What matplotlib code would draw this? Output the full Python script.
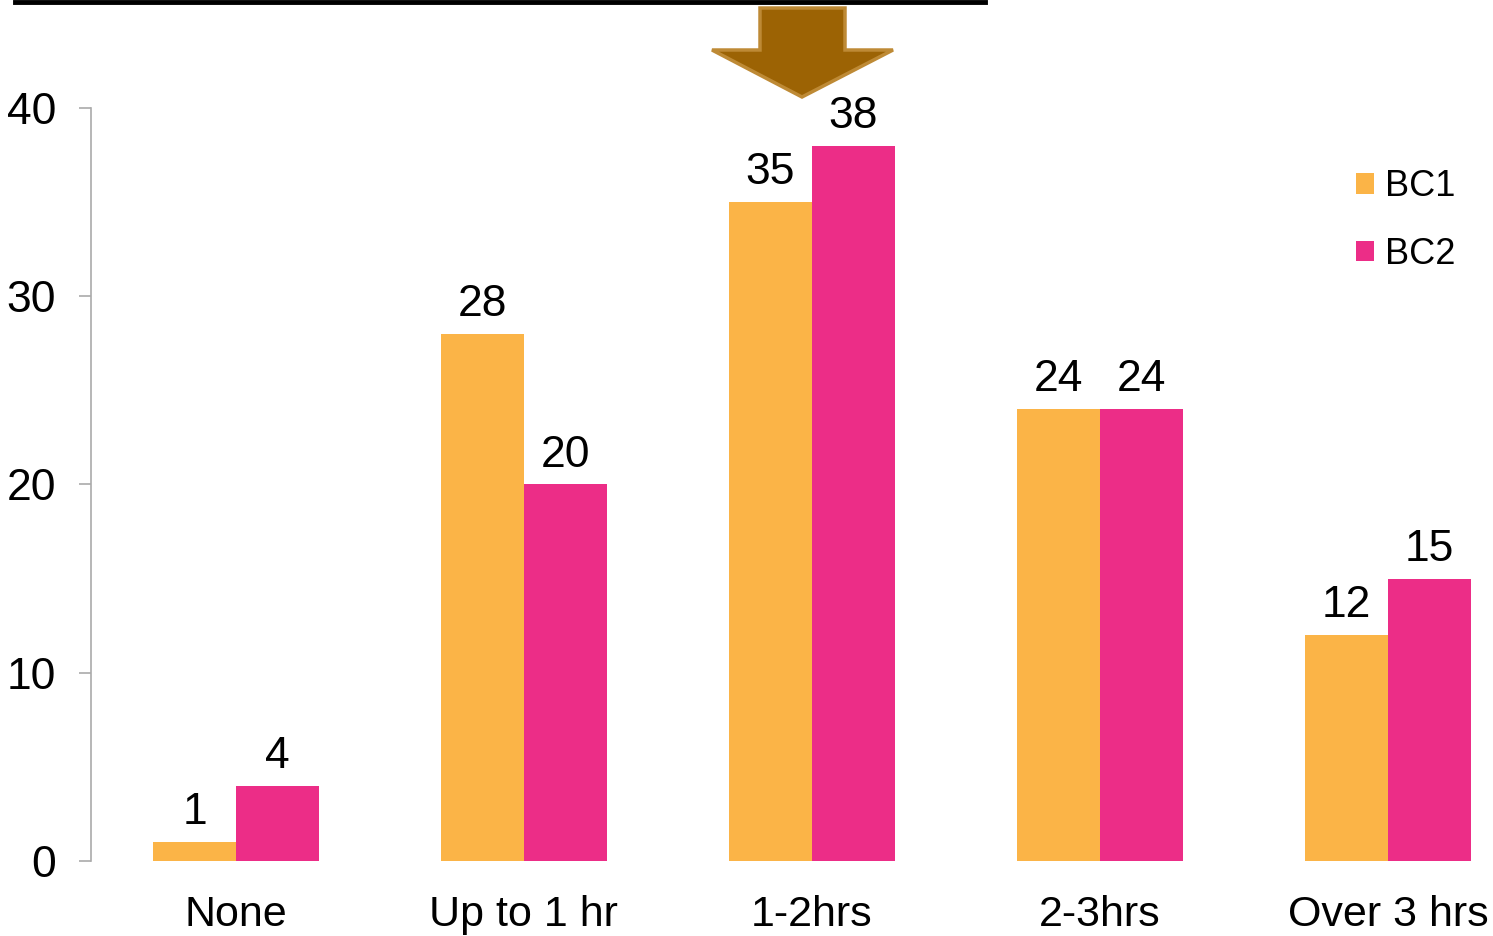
import matplotlib.pyplot as plt
import numpy as np
from matplotlib.patches import Polygon

plt.rcParams['font.family'] = ['Liberation Sans', 'DejaVu Sans']

categories = ['None', 'Up to 1 hr', '1-2hrs', '2-3hrs', 'Over 3 hrs']
bc1 = [1, 28, 35, 24, 12]
bc2 = [4, 20, 38, 24, 15]
series_names = ['BC1', 'BC2']
colors = ['#FBB447', '#EC2D87']

W, H = 1493, 936
fig = plt.figure(figsize=(W / 100, H / 100), dpi=100)
ax = fig.add_axes([91 / W, 1 - 861 / H, 1 - 91 / W, (861 - 108) / H])

x = np.arange(len(categories))
bw = 0.2875
b1 = ax.bar(x - bw / 2, bc1, bw, color=colors[0], label=series_names[0])
b2 = ax.bar(x + bw / 2, bc2, bw, color=colors[1], label=series_names[1])

for bars, vals in ((b1, bc1), (b2, bc2)):
    for r, v in zip(bars, vals):
        ax.text(r.get_x() + r.get_width() / 2, v + 0.95, str(v),
                ha='center', va='baseline', fontsize=32)

ax.set_xlim(-0.503, (W - 236) / 288)
ax.set_ylim(0, 40)
ax.set_yticks([0, 10, 20, 30, 40])
ax.set_xticks(x)
ax.set_xticklabels(categories, fontsize=31)
ax.tick_params(axis='y', labelsize=32, length=9, width=1.2, color='#AAAAAA', pad=16)
ax.tick_params(axis='x', length=0, pad=24.5)
for s in ['top', 'right', 'bottom']:
    ax.spines[s].set_visible(False)
ax.spines['left'].set_color('#AAAAAA')
ax.spines['left'].set_linewidth(1.2)

leg = ax.legend(loc='upper left', bbox_to_anchor=(1331 / W, 1 - 144 / H),
                bbox_transform=fig.transFigure, frameon=False, fontsize=26,
                handlelength=0.5, handleheight=0.5, handletextpad=0.3,
                labelspacing=0.9, borderpad=0.2)

# top rule
fig.add_artist(plt.Line2D([15 / W, 985 / W], [1 - 1.5 / H, 1 - 1.5 / H],
                          color='black', linewidth=3.5, transform=fig.transFigure))

# arrow pointing down
pts = [(760, 8), (845, 8), (845, 50), (893, 50), (802, 97), (712, 50), (760, 50)]
arrow = Polygon([(px / W, 1 - py / H) for px, py in pts], closed=True,
                facecolor='#9C6304', edgecolor='#BE8A35', linewidth=2.5,
                transform=fig.transFigure)
fig.add_artist(arrow)

fig.savefig('out.png', dpi=100)
